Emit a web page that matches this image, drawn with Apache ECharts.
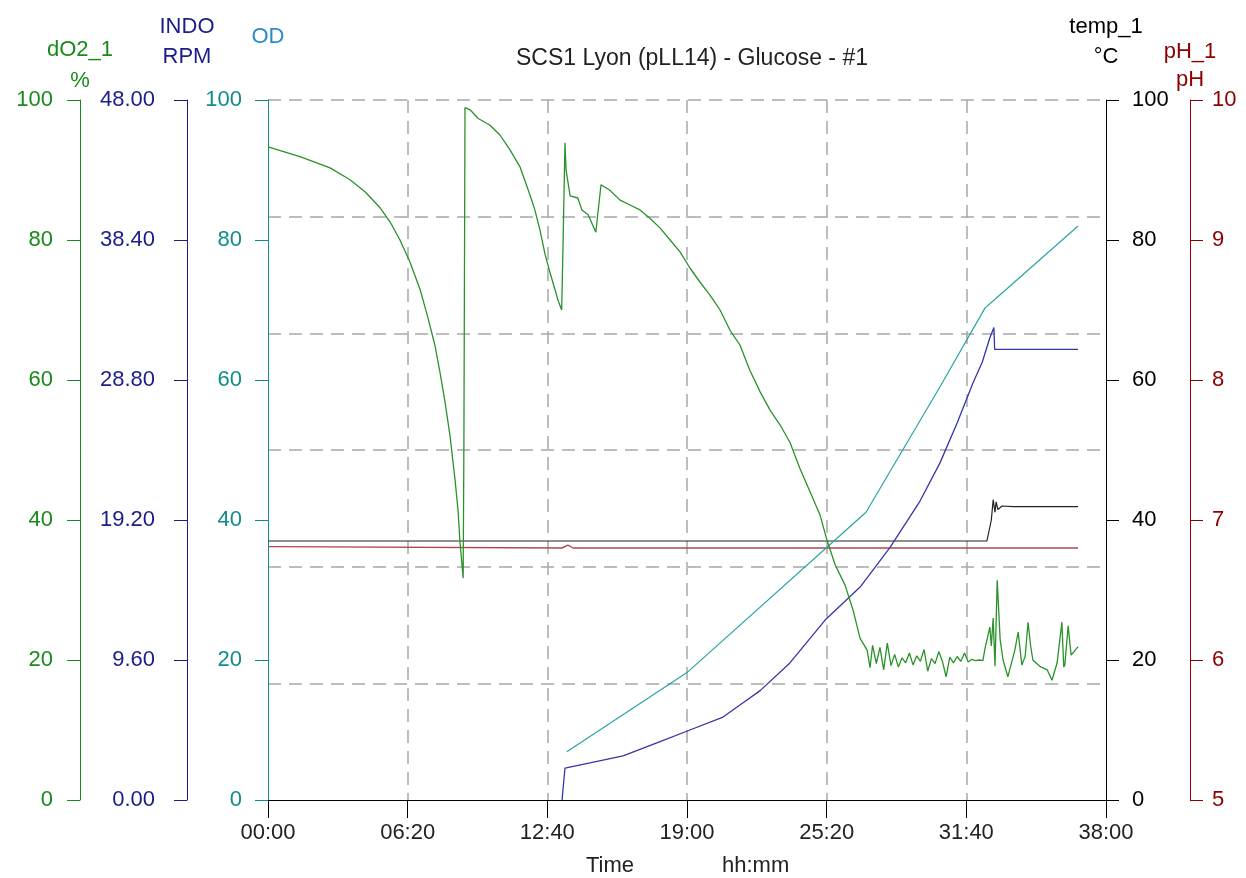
<!DOCTYPE html>
<html>
<head>
<meta charset="utf-8">
<script src="https://cdn.jsdelivr.net/npm/echarts@6/dist/echarts.min.js"></script>
<style>
html,body{margin:0;padding:0;background:#fff;}
#chart{width:1246px;height:878px;}
</style>
</head>
<body>
<div id="chart"></div>
<script>
// Time in minutes since start
const xTickLabels = ['00:00','06:20','12:40','19:00','25:20','31:40','38:00'];

const do2Time = [0,87,169,223,264,305,332,359,386,414,435,454,468,481,495,509,517,522,531,533,536,550,571,604,631,658,686,713,726,740,754,767,781,789,799,803,808,811,822,843,854,871,892,906,930,958,985,1012,1039,1067,1094,1121,1148,1175,1203,1230,1257,1284,1311,1339,1366,1393,1420,1447,1475,1502,1521,1543,1570,1592,1611,1630,1638,1645,1655,1665,1675,1685,1695,1705,1715,1725,1735,1745,1755,1765,1775,1785,1795,1805,1815,1825,1835,1845,1855,1865,1875,1885,1895,1905,1915,1925,1935,1945,1951,1964,1968,1973,1978,1984,1992,2000,2013,2032,2041,2051,2060,2068,2075,2081,2100,2120,2133,2147,2160,2165,2168,2177,2185,2190,2204];
const do2Values = [93.3,91.9,90.3,88.6,86.9,84.6,82.6,80,76.9,72.9,68.9,65,61.1,57.1,52.1,45.7,41.4,37.1,31.7,51,98.9,98.6,97.4,96.4,95,92.9,90.4,86.4,84.3,81.4,77.9,75.4,72.9,71.4,70,80,93.9,90,86.3,86,84.3,83.6,81.1,87.9,87.1,85.7,85,84.3,83.1,81.7,80,78.3,76,74,72.1,70,67.1,65,61.4,58.3,55.7,53.6,51.1,47.4,44,40.7,37.1,33.6,30.7,27.1,23.1,21.4,18.9,22.1,19.5,21.8,18.6,22.4,19.2,20.8,19.0,20.3,19.6,21.0,19.3,20.6,19.8,21.5,18.4,20.2,19.5,21.2,19.8,17.6,20.4,19.6,20.5,19.8,21.0,19.7,20.1,19.9,20.0,19.9,21.7,24.7,22,26,19.1,31.4,22.9,20,17.6,21.4,24,19.3,20.5,25.4,22,20,19.1,18.6,17.1,19.6,25.4,19,19.3,24.9,20.7,20.7,21.9];

const rpmTime = [800,808,876,966,1058,1148,1238,1284,1339,1420,1518,1611,1692,1774,1828,1875,1918,1943,1964,1975,1977,2204];
const rpmValues = [0,2.19,2.54,3.02,3.91,4.80,5.69,6.51,7.5,9.4,12.4,14.6,17.3,20.5,23.1,25.85,28.6,30.0,31.7,32.4,30.9,30.9];

const odTime = [813,1140,1627,1828,1951,1975,2204];
const odValues = [6.9,18.2,41.1,59,70.3,71.4,82];

const tempTime = [0,1956,1968,1973,1978,1981,1986,1997,2027,2204];
const tempValues = [37,37,40,42.9,41.1,42.6,41.5,42.0,41.9,41.9];

const phTime = [0,20,25,800,816,830,2204];
const phValues = [6.81,6.81,6.80,6.80,6.82,6.80,6.80];

const rpmTickDecimals = 2;
const title = 'SCS1 Lyon (pLL14) - Glucose - #1';

function pairs(t, v){ return t.map((x,i)=>[x, v[i]]); }

const FONT = '"Liberation Sans", Arial, sans-serif';
const FS = 22;

function yAx(o){
  return Object.assign({
    type:'value',
    nameMoveOverlap:false,
    splitLine:{show:false},
    axisLine:{show:true, onZero:false, lineStyle:{color:o.color, width:1}},
    axisTick:{show:true, length:13, lineStyle:{color:o.color, width:1}},
    axisLabel:{color:o.color, fontSize:FS, fontFamily:FONT, margin:o.margin, formatter:o.formatter},
    nameLocation:'end',
    nameTextStyle:{color:o.nameColor||o.color, fontSize:FS, fontFamily:FONT, lineHeight:o.lh||30, align:'center', verticalAlign:'top'}
  }, o.extra);
}

const gridLine = {color:'#a8a8a8', width:1.5, type:[13,8]};

const chart = echarts.init(document.getElementById('chart'), null, {renderer:'canvas'});
chart.setOption({
  animation:false,
  backgroundColor:'#fff',
  title:{text:title, left:687, top:42, textAlign:'center',
    textStyle:{fontSize:23, fontWeight:'normal', color:'#222', fontFamily:FONT}},
  grid:{left:268, right:140, top:100, bottom:78},
  xAxis:{
    type:'value', min:0, max:2280, interval:380,
    axisLine:{show:true, onZero:false, lineStyle:{color:'#000', width:1}},
    axisTick:{show:true, length:18, lineStyle:{color:'#000'}},
    axisLabel:{color:'#222', fontSize:FS, fontFamily:FONT, margin:22,
      formatter:(v)=>xTickLabels[Math.round(v/380)]},
    splitLine:{show:true, showMinLine:false, showMaxLine:false, lineStyle:gridLine}
  },
  yAxis:[
    yAx({color:'#1a8a1a', margin:27, lh:31, extra:{position:'left', offset:188, min:0, max:100, interval:20, name:'dO2_1\n%', nameGap:66}}),
    yAx({color:'#1c1c8c', margin:32, formatter:(v)=>v.toFixed(rpmTickDecimals), extra:{position:'left', offset:81, min:0, max:48, interval:9.6, name:'INDO\nRPM', nameGap:88}}),
    yAx({color:'#108c8c', nameColor:'#2a8cc8', margin:26, extra:{position:'left', offset:0, min:0, max:100, interval:20, name:'OD', nameGap:78}}),
    yAx({color:'#000', margin:26, extra:{position:'right', offset:0, min:0, max:100, interval:20, name:'temp_1\n°C', nameGap:88}}),
    yAx({color:'#8b0000', margin:22, lh:28, extra:{position:'right', offset:84, min:5, max:10, interval:1, name:'pH_1\npH', nameGap:62}}),
    {type:'value', position:'right', min:0, max:6, interval:1, show:true,
      axisLine:{show:false}, axisTick:{show:false}, axisLabel:{show:false},
      splitLine:{show:true, showMinLine:false, lineStyle:gridLine}}
  ],
  series:[
    {name:'temp_1', type:'line', yAxisIndex:3, data:pairs(tempTime,tempValues), showSymbol:false, lineStyle:{color:'#222', width:1.2}, z:3},
    {name:'pH_1', type:'line', yAxisIndex:4, data:pairs(phTime,phValues), showSymbol:false, lineStyle:{color:'#b04a4a', width:1.4}, z:3},
    {name:'OD', type:'line', yAxisIndex:2, data:pairs(odTime,odValues), showSymbol:false, lineStyle:{color:'#2aa3a3', width:1.2}, z:4},
    {name:'INDO RPM', type:'line', yAxisIndex:1, data:pairs(rpmTime,rpmValues), showSymbol:false, lineStyle:{color:'#3535a8', width:1.3}, z:4},
    {name:'dO2_1', type:'line', yAxisIndex:0, data:pairs(do2Time,do2Values), showSymbol:false, lineStyle:{color:'#2a922a', width:1.3}, z:5}
  ],
  graphic:[
    {type:'text', left:586, top:855, style:{text:'Time', fontSize:FS, fontFamily:FONT, fill:'#222'}},
    {type:'text', left:722, top:855, style:{text:'hh:mm', fontSize:FS, fontFamily:FONT, fill:'#222'}}
  ]
});
</script>
</body>
</html>
